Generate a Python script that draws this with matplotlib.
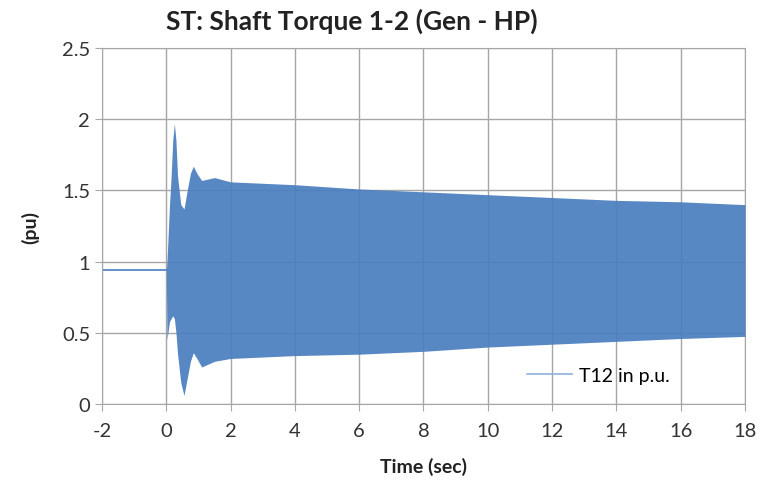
import matplotlib
matplotlib.use('Agg')
import matplotlib.pyplot as plt
from matplotlib.ticker import FuncFormatter

plt.rcParams['font.family'] = ['Lato', 'DejaVu Sans']
plt.rcParams['axes.unicode_minus'] = False

# pre-fault steady torque (pu)
pre_t = [-2.0, -1.0, 0.0]
pre_val = [0.94, 0.94, 0.94]

# envelope of the oscillating torque
env_t = [0.0, 0.02, 0.05, 0.1, 0.15, 0.2, 0.25, 0.3, 0.35, 0.45, 0.55, 0.65,
         0.75, 0.84, 0.95, 1.1, 1.3, 1.5, 2, 4, 6, 8, 10, 12, 14, 16, 18]
env_hi = [0.94, 1.0, 1.15, 1.4, 1.6, 1.85, 1.97, 1.85, 1.6, 1.4, 1.37, 1.5,
          1.62, 1.67, 1.62, 1.57, 1.58, 1.59, 1.56, 1.54, 1.51, 1.49, 1.47,
          1.45, 1.43, 1.42, 1.40]
env_lo = [0.94, 0.45, 0.5, 0.58, 0.6, 0.62, 0.6, 0.5, 0.35, 0.15, 0.06, 0.18,
          0.3, 0.36, 0.32, 0.26, 0.28, 0.30, 0.32, 0.34, 0.35, 0.37, 0.40,
          0.42, 0.44, 0.46, 0.475]

blue = '#4a7ebf'
grid_c = '#a6a6a6'

fig = plt.figure(figsize=(7.74, 4.85), dpi=100)
ax = fig.add_axes([0.1318, 0.1649, 0.8307, 0.7341])

ax.plot(pre_t, pre_val, color=blue, lw=1.2, label='T12 in p.u.')
ax.fill_between(env_t, env_lo, env_hi, color=blue, alpha=0.92, lw=0, zorder=3)

ax.set_xlim(-2, 18)
ax.set_ylim(0, 2.5)
ax.set_xticks(range(-2, 19, 2))
ax.set_yticks([0, 0.5, 1, 1.5, 2, 2.5])
ax.yaxis.set_major_formatter(FuncFormatter(lambda v, p: '%g' % v))
ax.grid(True, color=grid_c, lw=1)
ax.set_axisbelow(True)
for s in ax.spines.values():
    s.set_color(grid_c)
ax.tick_params(direction='out', length=5, color=grid_c, labelsize=14.5,
               labelcolor='#333333')
ax.tick_params(axis='x', pad=8)

ax.set_xlabel('Time (sec)', fontsize=14, fontweight='bold', color='#222222', labelpad=13)
ax.set_ylabel('(pu)', fontsize=14, fontweight='bold', color='#222222', labelpad=16)
fig.text(0.455, 0.955, 'ST: Shaft Torque 1-2 (Gen - HP)', ha='center', va='center',
         fontsize=19, fontweight='bold', color='#222222')

leg = ax.legend(loc='center right', bbox_to_anchor=(0.91, 0.08), frameon=False,
                fontsize=14, handlelength=2.3, handletextpad=0.35)
leg.get_lines()[0].set_color('#8fb0dc')

fig.savefig('out.png', dpi=100)
